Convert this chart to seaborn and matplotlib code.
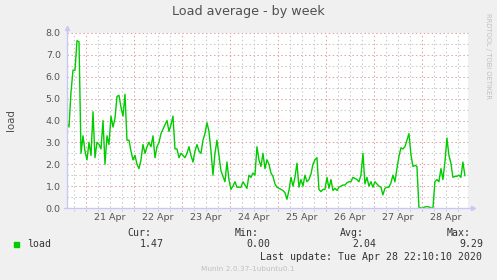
import matplotlib
matplotlib.use("Agg")
import matplotlib.pyplot as plt
import matplotlib.patches as mpatches
import numpy as np
import pandas as pd
import seaborn as sns

# ---------------- data ----------------
start_day = 20 + 14.5 / 24      # 20 Apr 14:30 (day-of-April units)
step_hours = 1.0
end_day = 28.96

load = [
    # 20 Apr afternoon -> 21 Apr
    3.9, 3.7, 5.3, 6.3, 6.3, 7.65, 7.6, 2.5, 3.3, 2.6,
    2.2, 3.0, 2.4, 4.4, 2.3, 3.0, 2.9, 2.7, 4.0, 2.0,
    3.3, 2.9, 4.2, 3.7, 4.1, 5.1, 5.15, 4.6, 4.2, 5.2,
    3.1, 3.1, 2.6, 2.2,
    # 22 Apr
    2.4, 2.0, 1.8, 2.2, 2.9, 2.5, 2.8, 3.0, 2.8, 3.3,
    2.3, 2.8, 3.0, 3.4, 3.6, 3.8, 4.0, 3.5, 3.8, 4.2,
    2.7, 2.7, 2.3, 2.5, 2.4, 2.3, 2.5, 2.8, 2.4, 2.1,
    2.6, 2.9, 2.6,
    # 23 Apr -> 24 Apr
    2.5, 3.1, 3.4, 3.9, 3.5, 2.6, 1.5, 2.5, 3.1, 2.4,
    1.7, 1.45, 1.2, 2.1, 1.3, 0.85, 1.0, 1.2, 0.95, 0.95,
    0.95, 1.2, 1.05, 0.9, 1.5, 1.4, 1.6, 1.5, 2.8, 2.2,
    1.9, 2.5, 1.8,
    # 24 Apr -> 25 Apr
    2.2, 2.0, 1.6, 1.45, 1.1, 0.95, 0.9, 0.85, 0.8, 0.7,
    0.4, 0.8, 1.4, 1.0, 1.4, 2.05, 0.95, 1.3, 1.0, 1.5,
    1.2, 1.3, 1.55, 2.0, 2.2, 2.3, 0.85, 0.75, 0.85, 0.85,
    1.4, 0.9, 1.3,
    # 26 Apr -> 27 Apr
    0.8, 0.9, 0.8, 0.95, 1.0, 1.05, 1.05, 1.15, 1.2, 1.2,
    1.4, 1.35, 1.3, 1.2, 1.5, 2.5, 1.1, 1.4, 1.0, 1.2,
    0.95, 1.2, 1.1, 1.0, 0.95, 0.6, 0.9, 0.95, 0.95, 1.15,
    1.5, 1.2, 1.8,
    # 27 Apr -> 28 Apr
    2.35, 2.75, 2.7, 2.8, 3.1, 3.4, 2.45, 1.9, 1.95, 1.9,
    0.03, 0.0, 0.0, 0.05, 0.06, 0.05, 0.0, 0.0, 1.2, 1.3,
    1.2, 1.8, 1.3, 2.1, 3.2, 2.4, 2.05, 1.4, 1.45, 1.45,
    1.5, 1.4, 2.1, 1.47,
]

day_numbers = [21, 22, 23, 24, 25, 26, 27, 28]
day_labels = ["21 Apr", "22 Apr", "23 Apr", "24 Apr",
              "25 Apr", "26 Apr", "27 Apr", "28 Apr"]
y_ticks = [0, 1, 2, 3, 4, 5, 6, 7, 8]

series_name = "load"
stat_names = ["Cur:", "Min:", "Avg:", "Max:"]
stat_values = ["1.47", "0.00", "2.04", "9.29"]
last_update = "Last update: Tue Apr 28 22:10:10 2020"
title = "Load average - by week"
footer = "Munin 2.0.37-1ubuntu0.1"
watermark = "RRDTOOL / TOBI OETIKER"

# ---------------- style ----------------
W, H = 497, 280
BG = "#f0f0f0"
LINE = "#00cc00"
MAJOR = "#e8a0a0"
MINOR = "#c8c8c8"
AXIS = "#c8c8f4"
TXT = "#555555"

sns.set_theme(style="white")
plt.rcParams["font.family"] = ["DejaVu Sans"]

fig = plt.figure(figsize=(W / 100, H / 100), dpi=100, facecolor=BG)
L, R, T, B = 67, 468, 33, 208
ax = fig.add_axes([L / W, 1 - B / H, (R - L) / W, (B - T) / H])
ax.set_facecolor("white")


def px(x, y):
    return x / W, 1 - y / H


t = start_day + np.arange(len(load)) * step_hours / 24.0
df = pd.DataFrame({"day": t, "load": load})

ax.set_xlim(start_day, end_day)
ax.set_ylim(0, y_ticks[-1])

dots = (0, (1.4, 2.4))
# horizontal grid
for yv in np.arange(0.5, y_ticks[-1] + 0.01, 0.5):
    major = abs(yv - round(yv)) < 1e-9
    ax.axhline(yv, color=MAJOR if major else MINOR, lw=0.75, ls=dots,
               zorder=1, clip_on=False)
# vertical grid
xv = np.ceil(start_day * 4) / 4
while xv < end_day:
    major = abs(xv - round(xv)) < 1e-9
    ax.axvline(xv, color=MAJOR if major else MINOR, lw=0.75, ls=dots,
               zorder=1, ymin=-3 / 175, clip_on=False)
    xv += 0.25

sns.lineplot(data=df, x="day", y="load", color=LINE, lw=1.0, ax=ax, zorder=3)

for s in ax.spines.values():
    s.set_visible(False)

# axis lines with arrows
ax.plot([0, 0], [0, 1 + 5 / 175], transform=ax.transAxes, color=AXIS,
        lw=1.0, clip_on=False, zorder=4)
ax.plot([-3 / 401, 1 + 4 / 401], [0, 0], transform=ax.transAxes, color=AXIS,
        lw=1.0, clip_on=False, zorder=4)
ax.plot(0, 1 + 5 / 175, marker="^", ms=3, color=AXIS, transform=ax.transAxes,
        clip_on=False, zorder=4)
ax.plot(1 + 5 / 401, 0, marker=">", ms=3, color=AXIS, transform=ax.transAxes,
        clip_on=False, zorder=4)

ax.set_xticks([d + 0.5 for d in day_numbers], day_labels)
ax.set_yticks(y_ticks, [f"{v:.1f}" for v in y_ticks])
ax.tick_params(axis="x", length=0, pad=3.5, labelsize=6.8, labelcolor=TXT)
ax.tick_params(axis="y", length=2, width=0.6, color=MINOR, pad=2.5,
               labelsize=6.8, labelcolor=TXT)
ax.set_xlabel("")
ax.set_ylabel("")

# texts
fig.text(*px(248, 12), title, ha="center", va="center", fontsize=9.2,
         color="#505050")
fig.text(*px(11, 120), series_name, ha="center", va="center", rotation=90,
         fontsize=7.4, color="#505050")
fig.text(*px(488, 56), watermark, ha="center", va="center", rotation=270,
         fontsize=4.9, color="#c0c0c0")

MONO = dict(family="DejaVu Sans Mono", fontsize=7.1, color="#333333",
            va="center", ha="left")
name_x = [127.7, 234.3, 340.0, 446.7]
val_x = [139.3, 246.0, 352.7, 459.0]
for nx, nm in zip(name_x, stat_names):
    fig.text(*px(nx, 232.7), nm, **MONO)
for vx, vv in zip(val_x, stat_values):
    fig.text(*px(vx, 244.3), vv, **MONO)
fig.patches.append(mpatches.Rectangle(px(14, 246.8), 5 / W, 5 / H,
                                      transform=fig.transFigure,
                                      color=LINE, figure=fig))
fig.text(*px(26.7, 244.3), series_name, **MONO)
fig.text(*px(482.5, 256.7), last_update, **dict(MONO, ha="right"))
fig.text(*px(248, 269), footer, ha="center", va="center", fontsize=5.3,
         color="#c0c0c0")

fig.savefig("out.png", dpi=100, facecolor=BG)
